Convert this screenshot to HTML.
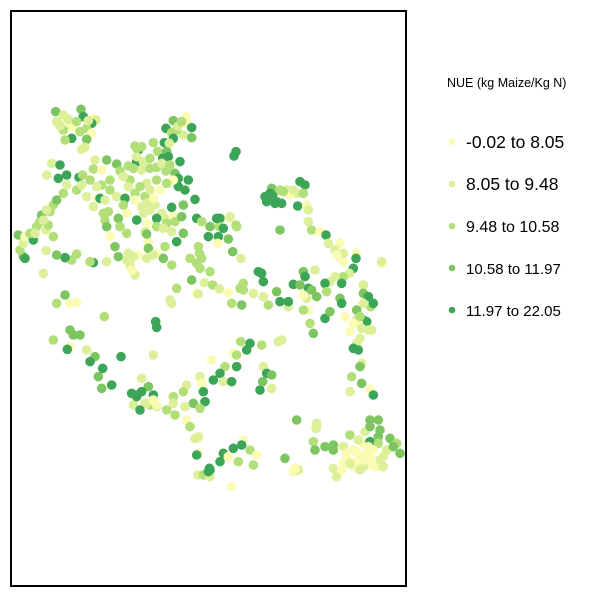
<!DOCTYPE html>
<html><head><meta charset="utf-8"><style>
body{margin:0;background:#fff;font-family:"Liberation Sans",sans-serif}
</style></head><body>
<svg id="chart" width="600" height="600">
<rect x="11" y="11" width="395" height="575" fill="#fff" stroke="#000" stroke-width="2"/>
<g id="pts"></g>
<g>
<text x="447" y="87" font-size="12.5">NUE (kg Maize/Kg N)</text>
<g id="leg"></g>
</g>
</svg>
<script>
const classColors=["#fbfbb4","#dcf09a","#b2df78","#7cc560","#3da557"];
const classLabels=["-0.02 to 8.05","8.05 to 9.48","9.48 to 10.58","10.58 to 11.97","11.97 to 22.05"];
const labelSizes=[17.5,17.5,16,15,15];
const easting=[];const southing=[];const nueClass=[];
const sites=[[137,65,3],[160,75,1],[213,58,3],[220,80,4],[250,85,0],[258,90,1],[140,95,1],[165,100,0],[185,110,0],[245,100,4],[230,115,2],[245,130,0],[160,120,2],[185,145,4],[165,150,2],[230,148,3],[215,178,1],[225,172,1],
[528,80,0],[490,92,3],[532,100,0],[545,113,4],[468,115,4],[485,128,2],[520,135,1],[545,143,3],[500,120,2],[490,145,4],
[375,168,2],[385,180,4],[430,158,2],[463,158,4],[478,160,1],[443,184,2],[470,185,3],[475,200,4],[458,205,4],[510,215,4],[678,185,4],[672,198,4],
[125,220,1],[150,225,4],[110,255,1],[145,265,4],[170,255,4],[207,262,4],[218,255,2],[255,210,1],[250,237,2],[290,210,3],[275,240,0],[320,222,3],[330,243,2],[355,228,2],[380,215,4],[370,235,2],[395,240,1],[420,235,2],[440,232,2],[468,243,2],[495,250,3],[505,265,4],[535,270,4],[505,290,4],[525,300,4],[490,270,0],[470,280,2],[440,270,2],[410,280,1],[390,290,2],[360,270,2],[300,270,2],[275,285,2],[240,270,2],[260,290,1],[230,320,1],[262,325,0],[270,325,4],[300,300,2],[320,320,1],[345,325,4],[375,310,2],[375,330,0],[405,320,2],[435,345,1],[420,360,1],[395,350,1],[485,352,4],[520,345,3],[555,328,4],[455,370,1],[465,385,1],[490,380,0],[495,395,2],[515,380,3],[440,385,4],[380,390,4],[350,370,0],[325,385,3],[285,390,2],[295,365,2],[290,410,3],[330,410,2],[350,430,2],[300,440,0],[410,400,0],[405,425,1],[440,410,2],[470,400,2],[485,425,1],[520,430,3],[560,385,4],[575,395,2],[600,410,3],[630,385,4],[628,410,2],[658,385,0],[640,415,4],[680,410,2],[595,440,4],[625,440,4],[655,447,3],[623,460,0],[500,455,4],[465,470,2],[415,455,0],[410,432,3],[415,475,3],[440,490,0],[460,505,3],[485,525,2],[355,490,1],[360,525,1],[375,555,1],[385,495,0],[315,470,3],[325,500,3],[290,515,1],[250,518,4],[240,515,2],[200,492,2],[185,510,2],[165,503,4],[140,495,3],[108,482,1],[100,550,1],[40,500,3],[45,505,4],[30,480,2],[40,460,1],[25,435,3],[45,440,0],[70,450,4],[60,430,2],[80,410,2],[90,395,2],[108,420,1],[115,405,2],[130,440,2],[95,375,3],[120,365,2],[130,345,2],[140,330,3],[160,310,2],[110,360,1],
[565,470,2],[568,490,2],[540,505,2],[570,535,2],[600,545,2],[545,570,3],[583,578,1],[608,585,2],[628,597,1],[655,608,0],[690,595,2],[700,580,2],[665,640,2],[695,645,3],[480,630,1],[485,640,1],[500,595,2],[560,610,0],[565,612,1],[668,485,3],[693,505,1],[660,380,1],[678,405,2],[620,385,4],
[765,320,4],[775,330,4],[790,310,4],[800,335,4],[815,340,4],[785,295,3],[810,300,2],[830,300,1],[860,310,1],[870,275,4],[885,285,4],[880,310,2],[840,315,0],[863,348,4],[890,345,0],[895,360,1],[895,395,1],[905,420,2],[930,425,0],[948,435,4],[955,460,1],[990,460,0],[975,480,1],[990,500,1],[1000,515,0],[1040,490,0],[1038,505,4],[1030,535,4],[1018,550,1],[1000,560,2],[975,560,1],[960,575,1],[945,580,4],[915,540,1],[880,545,3],[885,560,4],[895,595,4],[905,600,3],[920,620,3],[950,605,2],[995,580,4],[1060,585,1],[1060,610,3],[1075,620,4],[1082,650,2],[1090,640,4],[1060,640,1],[990,625,3],[995,640,4],[810,420,3],[745,545,4],[760,575,4],[755,550,4],[700,600,2],[730,610,1],[760,620,1],[775,645,2],[800,605,3],[810,635,4],[835,650,1],[835,635,4],[850,583,4],[870,585,3],[890,625,1],[880,615,0],[895,660,0],[880,660,2],[900,700,2],[910,730,3],[945,685,4],[960,665,3],[1005,680,0],[1040,690,1],[1045,700,0],[1060,690,4],[1070,695,4],[1075,720,1],[1085,720,1],[1020,725,0],[1050,745,1],[1040,760,1],[1030,775,4],[1045,780,4],[1055,820,1],[1050,830,3],[1025,860,2],[1055,880,3],[1020,905,1],[1080,898,0],[1090,915,4],[1115,520,0],[1115,515,1],[1040,660,3],
[692,755,2],[720,760,4],[755,765,2],[805,755,1],[815,750,1],[670,790,0],[680,795,2],[710,780,4],[605,810,0],[645,830,2],[680,830,4],[630,850,4],[640,875,1],[610,870,4],[665,875,4],[570,860,1],[575,880,0],[530,885,1],[520,905,2],[580,905,4],[585,935,4],[550,940,3],[525,950,1],[570,955,2],[490,920,2],[490,940,1],[470,960,2],[440,950,1],[430,915,4],[415,890,3],[395,865,1],[405,940,1],[370,945,1],[390,960,4],[420,945,2],[440,945,0],[395,905,4],[380,915,4],[365,910,4],[305,885,4],[275,895,3],[265,860,3],[278,835,4],[255,800,3],[240,815,4],[230,780,1],[180,770,0],[172,778,4],[130,750,2],[180,720,3],[190,735,3],[210,735,3],[165,615,3],[140,640,2],[180,640,0],[200,637,0],[333,800,4],[430,795,1],[760,830,1],[770,850,4],[785,855,3],[785,895,1],[750,900,4],[758,875,3],[437,695,4],[440,712,4],[283,680,2],[860,990,3],[495,975,2],[530,990,0],[540,1010,2],[565,1045,0],[555,1045,1],[565,1090,0],[560,1095,4],[563,1155,1],[580,1155,2],[600,1160,1],[598,1135,4],[630,1115,4],[640,1090,4],[670,1075,4],[655,1100,0],[685,1115,2],[700,1050,0],[695,1065,4],[720,1080,2],[740,1095,0],[730,1125,2],[665,1190,0],[600,1140,4],[825,1105,3],[850,1145,0],[865,1140,1],[910,1055,2],[915,1080,3],[920,1000,1],[918,1015,1],[945,1070,3],[970,1065,3],[970,1080,3],[970,1135,1],[980,1160,1],[1000,1070,1],[1020,1035,2],[1030,1080,0],[1040,1115,0],[1050,1100,0],[1070,1090,0],[1060,1060,0],[1065,1025,1],[1080,1010,3],[1110,1020,3],[1105,1040,3],[1080,1055,4],[1105,1060,2],[1140,1045,3],[1160,1060,2],[1170,1090,3],[1130,1080,1],[1120,1100,1],[1100,1130,0],[1075,1125,0],[1060,1130,1],[1030,1130,0],[1010,1105,0],[1000,1120,0],[1050,1140,1],[1080,990,3],[1105,990,3],
[175,88,1],[200,95,2],[235,92,1],[150,108,1],[210,125,2],[505,108,1],[515,95,2],[380,200,1],[400,215,1],[420,205,2],[455,220,1],[480,225,2],[340,260,1],[355,290,1],[420,300,1],[450,300,0],[410,340,1],[430,325,0],[400,370,1],[460,415,1],[340,345,2],[285,330,1],[250,350,1],[280,370,2],[170,285,1],[200,300,2],[215,285,1],[100,390,1],[75,430,1],[350,510,1],[370,500,1],[365,540,0],[410,505,1],[430,495,1],[575,505,2],[560,520,2],[820,305,2],[850,300,1],[780,310,4],[770,335,4],[795,340,4],[1000,490,1],[980,495,0],[1045,700,0],[1055,715,1],[1030,700,0],[1050,680,2],[1040,1085,0],[1060,1110,0],[1080,1105,0],[1090,1080,0],[1095,1130,0],[1110,1110,1],[1010,1090,0],[1020,1120,1],[1075,1070,0],[1120,1130,1],[995,1140,0],[1045,1050,1],[1150,1070,3],[855,1135,0],[920,1010,1],[380,920,4],[410,940,1],[430,930,0],[565,1040,1],[595,1145,4],[380,175,2],[395,170,2]];
sites.forEach(s=>{easting.push(s[0]);southing.push(s[1]);nueClass.push(s[2]);});
const xScale=v=>10+v/3;
const yScale=v=>90+v/3;
const NS="http://www.w3.org/2000/svg";
const g=document.getElementById('pts');
for(let i=0;i<easting.length;i++){
  const c=document.createElementNS(NS,'circle');
  c.setAttribute('cx',xScale(easting[i]));
  c.setAttribute('cy',yScale(southing[i]));
  c.setAttribute('r',4.8);
  c.setAttribute('fill',classColors[nueClass[i]]);
  
  
  g.appendChild(c);
}
const leg=document.getElementById('leg');
const legY=[142,184,226,268,310];
classLabels.forEach((lab,i)=>{
  const c=document.createElementNS(NS,'circle');
  c.setAttribute('cx',452);c.setAttribute('cy',legY[i]);c.setAttribute('r',3.3);
  c.setAttribute('fill',classColors[i]);
  
  
  leg.appendChild(c);
  const t=document.createElementNS(NS,'text');
  t.setAttribute('x',466);t.setAttribute('y',legY[i]+6);
  t.setAttribute('font-size',labelSizes[i]);
  t.textContent=lab;
  
  
  leg.appendChild(t);
});
</script>
</body></html>
